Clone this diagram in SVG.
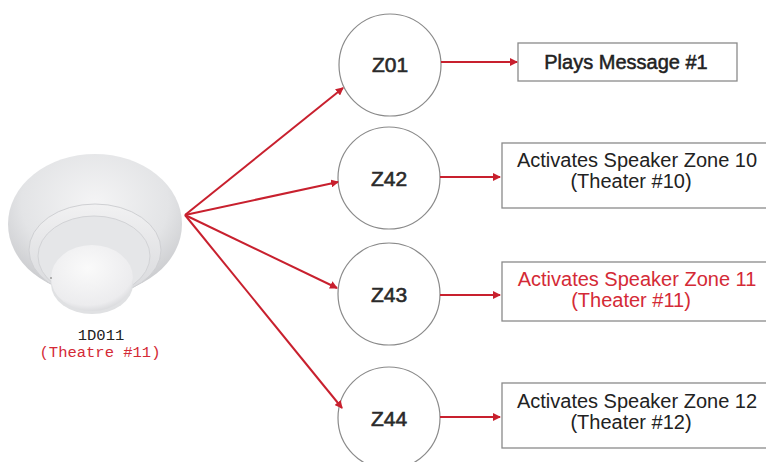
<svg xmlns="http://www.w3.org/2000/svg" width="766" height="462" viewBox="0 0 766 462">
  <style>
    .zone circle { fill: #ffffff; stroke: #8a8a8a; stroke-width: 1.2; }
    .zone text { font-family: "Liberation Sans", Arial, sans-serif; font-size: 21px; fill: #2a2a2a; stroke: #2a2a2a; stroke-width: 0.6; text-anchor: middle; }
    .action rect { fill: #ffffff; stroke: #8a8a8a; stroke-width: 1.3; }
    .action text { font-family: "Liberation Sans", Arial, sans-serif; font-size: 20px; fill: #222222; text-anchor: middle; }
    .action text.strong { stroke: #222222; stroke-width: 0.5; }
    .action text.hot { fill: #d42a36; }
    .link { stroke: #c8202e; stroke-width: 2; fill: none; marker-end: url(#tip); }
    .label { font-family: "Liberation Mono", "Courier New", monospace; font-size: 15.5px; text-anchor: middle; }
  </style>
  <defs>
    <marker id="tip" viewBox="0 0 8 8" refX="7" refY="4" markerWidth="4" markerHeight="4" orient="auto" markerUnits="strokeWidth">
      <path d="M0,0 L8,4 L0,8 z" fill="#c8202e"/>
    </marker>
    <radialGradient id="bodyGrad" cx="0.5" cy="0.35" r="0.65">
      <stop offset="0" stop-color="#f4f4f5"/>
      <stop offset="0.65" stop-color="#e3e4e6"/>
      <stop offset="1" stop-color="#c9cacd"/>
    </radialGradient>
    <linearGradient id="ringGrad" x1="0" y1="0" x2="0" y2="1">
      <stop offset="0" stop-color="#f1f1f2"/>
      <stop offset="1" stop-color="#d8d9dc"/>
    </linearGradient>
    <radialGradient id="capGrad" cx="0.45" cy="0.35" r="0.7">
      <stop offset="0" stop-color="#fafafa"/>
      <stop offset="0.8" stop-color="#ececee"/>
      <stop offset="1" stop-color="#d3d4d7"/>
    </radialGradient>
  </defs>

  <rect width="766" height="462" fill="#ffffff"/>

  <!-- detector device with its address -->
  <g id="detector">
    <ellipse cx="95" cy="224" rx="87" ry="70" fill="url(#bodyGrad)"/>
    <ellipse cx="95" cy="250" rx="66" ry="46" fill="url(#ringGrad)" stroke="#cfd0d3" stroke-width="1"/>
    <ellipse cx="94" cy="256" rx="56" ry="40" fill="#e5e6e8" stroke="#d2d3d6" stroke-width="1"/>
    <path d="M51,276 L51,284 A41,30 0 0 0 133,284 L133,276 z" fill="#e0e1e3"/>
    <ellipse cx="92" cy="278" rx="41" ry="33" fill="url(#capGrad)"/>
    <circle cx="51" cy="278" r="1" fill="#9a9a9a"/>
    <text class="label" x="101" y="340" fill="#222222">1D011</text>
    <text class="label" x="100" y="357" fill="#d42a36">(Theatre #11)</text>
  </g>

  <!-- zone circles -->
  <g id="z01" class="zone">
    <circle cx="390" cy="65" r="51"/>
    <text x="390" y="72">Z01</text>
  </g>
  <g id="z42" class="zone">
    <circle cx="389" cy="178" r="51"/>
    <text x="389" y="186">Z42</text>
  </g>
  <g id="z43" class="zone">
    <circle cx="389" cy="294" r="51"/>
    <text x="389" y="302">Z43</text>
  </g>
  <g id="z44" class="zone">
    <circle cx="389" cy="418" r="51"/>
    <text x="389" y="426">Z44</text>
  </g>

  <!-- resulting actions -->
  <g id="msg1" class="action">
    <rect x="518" y="43" width="219" height="38"/>
    <text class="strong" x="626" y="69">Plays Message #1</text>
  </g>
  <g id="spk10" class="action">
    <rect x="502" y="143" width="280" height="65"/>
    <text x="637" y="167">Activates Speaker Zone 10</text>
    <text x="631" y="188">(Theater #10)</text>
  </g>
  <g id="spk11" class="action">
    <rect x="502" y="262" width="280" height="59"/>
    <text class="hot" x="637" y="286">Activates Speaker Zone 11</text>
    <text class="hot" x="631" y="307">(Theater #11)</text>
  </g>
  <g id="spk12" class="action">
    <rect x="502" y="383" width="280" height="65"/>
    <text x="637" y="408">Activates Speaker Zone 12</text>
    <text x="631" y="429">(Theater #12)</text>
  </g>

  <!-- connectors -->
  <g id="connectors">
    <line class="link" x1="185" y1="215" x2="343" y2="88"/>
    <line class="link" x1="185" y1="215" x2="338" y2="182"/>
    <line class="link" x1="185" y1="215" x2="337" y2="288"/>
    <line class="link" x1="185" y1="215" x2="342" y2="408"/>
    <line class="link" x1="441" y1="62" x2="517" y2="62"/>
    <line class="link" x1="440" y1="177" x2="500" y2="177"/>
    <line class="link" x1="440" y1="295" x2="500" y2="295"/>
    <line class="link" x1="440" y1="417" x2="500" y2="417"/>
  </g>
</svg>
